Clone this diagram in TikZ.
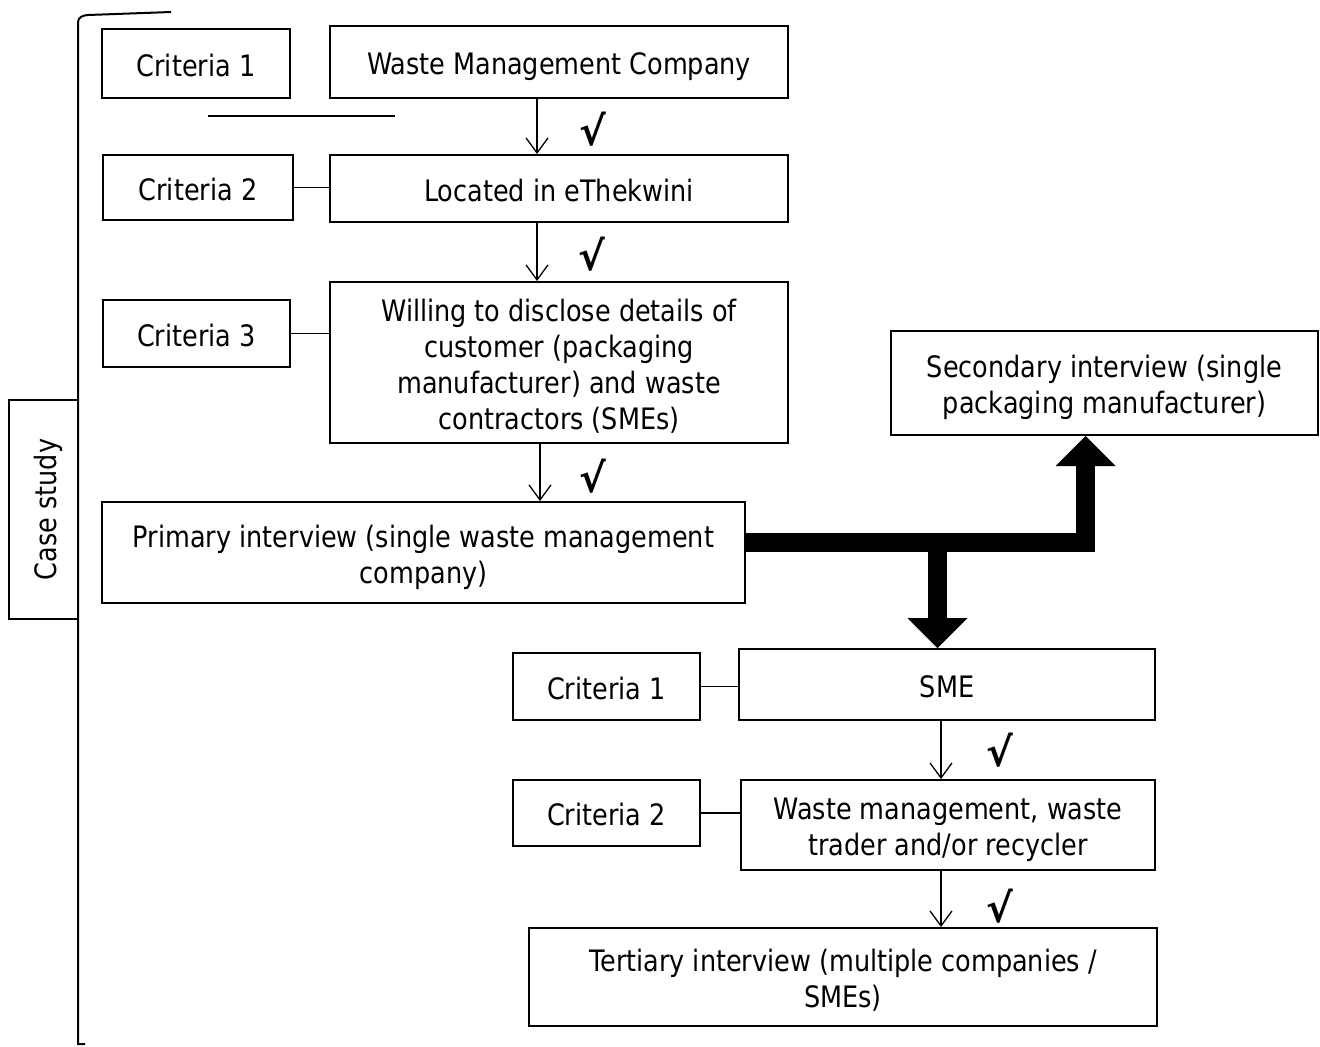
\documentclass[tikz,border=0pt]{standalone}
\usepackage{fontspec}
\setmainfont{DejaVu Sans}[FakeStretch=0.865]
\newfontfamily\checkfont{DejaVu Sans Bold}
\usetikzlibrary{arrows.meta,calc}
% fixed height for the first line of a box text
\newcommand{\firstln}{\rule{0pt}{17.4pt}}
\begin{document}
\begin{tikzpicture}[x=0.5pt,y=-0.5pt,
  box/.style={draw, line width=1pt, inner sep=0pt, align=center,
    font=\fontsize{14.75}{18}\selectfont,
    execute at begin node={\firstln},
    execute at end node={\rule[-4.5pt]{0pt}{4.5pt}}},
  flow/.style={line width=0.65pt, -{Straight Barb[length=7.5pt,width=11pt]}},
  link/.style={line width=0.8pt},
  tick/.style={inner sep=0pt, font=\checkfont\fontsize{20}{20}\selectfont},
  bigarrow/.style={line width=9.5pt, line join=miter,
    -{Triangle[length=15pt,width=30pt,line width=0pt]}}
]
\useasboundingbox (0,0) rectangle (1320,1046);

% first stage: waste management company
\node[box, minimum width=94pt, minimum height=34.5pt] (c1a) at (196,63.5) {Criteria 1};
\node[box, minimum width=229pt, minimum height=36pt] (wmc) at (559,62) {Waste Management Company};
\node[box, minimum width=95pt, minimum height=32.5pt] (c2a) at (198,187.5) {Criteria 2};
\node[box, minimum width=229pt, minimum height=33.5pt] (loc) at (559,188.5) {Located in eThekwini};
\node[box, minimum width=93.5pt, minimum height=33.5pt] (c3a) at (196.5,333.5) {Criteria 3};
\node[box, minimum width=229pt, minimum height=80.5pt] (will) at (559,362.5)
  {\firstln Willing to disclose details of\\customer (packaging\\manufacturer) and waste\\contractors (SMEs)};
\node[box, minimum width=321.5pt, minimum height=50.5pt] (prim) at (423.5,552.5)
  {\firstln Primary interview (single waste management\\company)};
\node[box, minimum width=213.5pt, minimum height=52pt] (sec) at (1104.5,383)
  {\firstln Secondary interview (single\\packaging manufacturer)};

% second stage: SMEs
\node[box, minimum width=93.5pt, minimum height=33.5pt] (c1b) at (606.5,686.5) {Criteria 1};
\node[box, minimum width=208pt, minimum height=35.5pt] (sme) at (947,684.5) {SME};
\node[box, minimum width=93.5pt, minimum height=33pt] (c2b) at (606.5,813) {Criteria 2};
\node[box, minimum width=207pt, minimum height=45pt] (wm) at (948,825)
  {\firstln Waste management, waste\\trader and/or recycler};
\node[box, minimum width=314pt, minimum height=49pt] (ter) at (843,977)
  {\firstln Tertiary interview (multiple companies /\\SMEs)};

% side label
\node[box, rotate=90, minimum width=109.5pt, minimum height=34.5pt] (case) at (43.5,509.5) {Case study};

% bracket grouping the case study
\coordinate (brTop) at (171,12);
\coordinate (brBot) at (85,1044);
\draw[line width=1pt] (brTop) -- (88,15) to[out=182,in=90] (78,22) -- (78,1044) -- (brBot);

% loose rule under the first criteria
\coordinate (ruleL) at (208,116);
\coordinate (ruleR) at (395,116);
\draw[line width=1pt] (ruleL) -- (ruleR);

% columns of the thin arrows
\coordinate (colA) at (537,0);
\coordinate (colB) at (540,0);
\coordinate (colC) at (941,0);

\draw[flow] (wmc.south -| colA) -- (loc.north -| colA);
\draw[flow] (loc.south -| colA) -- (will.north -| colA);
\draw[flow] (will.south -| colB) -- (prim.north -| colB);
\draw[flow] (sme.south -| colC) -- (wm.north -| colC);
\draw[flow] (wm.south -| colC) -- (ter.north -| colC);

% criteria links
\draw[link] (c2a.east) -- (c2a.east -| loc.west);
\draw[link] (c3a.east) -- (c3a.east -| will.west);
\draw[link] (c1b.east) -- (c1b.east -| sme.west);
\draw[link] (c2b.east) -- (c2b.east -| wm.west);

% ticks
\node[tick] (t1) at (593,129) {√};
\node[tick] (t2) at (592,254) {√};
\node[tick] (t3) at (593,476) {√};
\node[tick] (t4) at (1000,750) {√};
\node[tick] (t5) at (1000,906) {√};

% thick branching arrows
\coordinate (bar) at (0,542.5);
\coordinate (upx) at (1085.5,0);
\coordinate (dnx) at (937.5,0);
\draw[bigarrow] (prim.east |- bar) -| (sec.south -| upx);
\draw[bigarrow] (dnx |- bar) -- (sme.north -| dnx);
\end{tikzpicture}
\end{document}
